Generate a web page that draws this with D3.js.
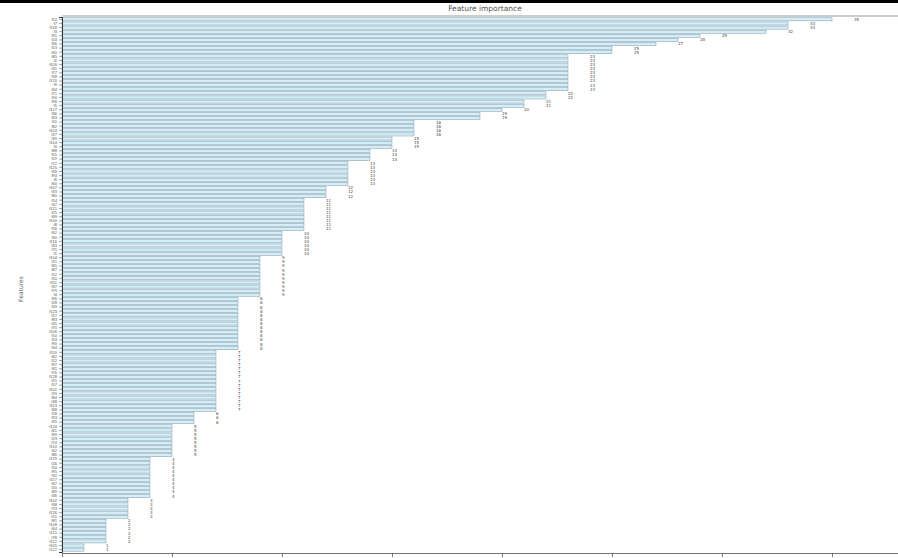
<!DOCTYPE html>
<html>
<head>
<meta charset="utf-8">
<script src="https://cdn.jsdelivr.net/npm/d3@7"></script>
<style>
  body { margin: 0; background: #fff; }
  svg { display: block; font-family: "DejaVu Sans", sans-serif; }
</style>
</head>
<body>
<div id="chart"></div>
<script>
// features, top of chart first (largest F score)
const features = [
  "f52", "f7", "f118", "f3", "f91", "f24", "f66", "f13", "f40",
  "f85", "f2", "f109", "f31", "f77", "f58", "f120", "f9", "f44",
  "f71", "f16", "f98", "f5", "f127", "f36", "f63", "f11", "f82",
  "f103", "f27", "f49", "f114", "f0", "f88", "f55", "f19", "f72",
  "f125", "f39", "f94", "f6", "f60", "f107", "f33", "f80", "f14",
  "f47", "f121", "f25", "f69", "f100", "f8", "f56", "f92", "f30",
  "f116", "f43", "f75", "f1", "f104", "f21", "f65", "f87", "f12",
  "f50", "f111", "f37", "f79", "f4", "f96", "f28", "f59", "f123",
  "f17", "f83", "f45", "f70", "f106", "f10", "f53", "f90", "f34",
  "f119", "f62", "f22", "f97", "f41", "f76", "f128", "f15", "f57",
  "f101", "f29", "f84", "f48", "f113", "f68", "f18", "f93", "f35",
  "f124", "f61", "f99", "f23", "f74", "f110", "f42", "f86", "f129",
  "f26", "f54", "f95", "f32", "f117", "f67", "f20", "f89", "f46",
  "f102", "f38", "f73", "f126", "f51", "f81", "f108", "f64", "f115",
  "f78", "f112", "f105", "f122"
];

// F score of each feature, same order
const scores = [
  35, 33, 33, 32, 29, 28, 27, 25, 25,
  23, 23, 23, 23, 23, 23, 23, 23, 23,
  22, 22, 21, 21, 20, 19, 19, 16, 16,
  16, 16, 15, 15, 15, 14, 14, 14, 13,
  13, 13, 13, 13, 13, 12, 12, 12, 11,
  11, 11, 11, 11, 11, 11, 11, 10, 10,
  10, 10, 10, 10, 9, 9, 9, 9, 9,
  9, 9, 9, 9, 9, 8, 8, 8, 8,
  8, 8, 8, 8, 8, 8, 8, 8, 8,
  7, 7, 7, 7, 7, 7, 7, 7, 7,
  7, 7, 7, 7, 7, 7, 6, 6, 6,
  5, 5, 5, 5, 5, 5, 5, 5, 4,
  4, 4, 4, 4, 4, 4, 4, 4, 4,
  3, 3, 3, 3, 3, 2, 2, 2, 2,
  2, 2, 1, 1
];

const xTicks = [0, 5, 10, 15, 20, 25, 30, 35];

const width = 898;
const height = 558;
const margin = { top: 16, right: 0, bottom: 5, left: 62 };

const data = features.map((f, i) => ({ feature: f, value: scores[i] }));

const svg = d3
  .select("#chart")
  .append("svg")
  .attr("width", width)
  .attr("height", height);

// black strip along the top edge
svg
  .append("rect")
  .attr("x", 0)
  .attr("y", 0)
  .attr("width", width)
  .attr("height", 3)
  .attr("fill", "#000");

const x = d3
  .scaleLinear()
  .domain([0, 38])
  .range([margin.left, width - margin.right]);

const y = d3
  .scaleBand()
  .domain(features)
  .range([margin.top + 1, height - margin.bottom - 1])
  .paddingInner(0.25)
  .paddingOuter(0.2);

// bars
svg
  .selectAll(".bar")
  .data(data)
  .enter()
  .append("rect")
  .attr("class", "bar")
  .attr("x", x(0))
  .attr("y", (d) => y(d.feature))
  .attr("width", (d) => x(d.value) - x(0))
  .attr("height", y.bandwidth())
  .attr("fill", "#d3eef9")
  .attr("stroke", "#62808f")
  .attr("stroke-width", 0.4);

// value labels, one unit to the right of each bar
svg
  .selectAll(".val")
  .data(data)
  .enter()
  .append("text")
  .attr("class", "val")
  .attr("x", (d) => x(d.value + 1))
  .attr("y", (d) => y(d.feature) + y.bandwidth() / 2)
  .attr("dy", "0.35em")
  .style("font-size", "4px")
  .style("fill", "#444")
  .text((d) => d.value);

// y axis
svg
  .append("g")
  .attr("transform", `translate(${margin.left},0)`)
  .call(d3.axisLeft(y).tickSize(3).tickPadding(2))
  .call((g) => g.select(".domain").attr("stroke", "#333"))
  .call((g) => g.selectAll(".tick line").attr("stroke", "#555").attr("stroke-width", 0.5))
  .selectAll("text")
  .style("font-size", "4px")
  .style("fill", "#555");

// x axis, tick labels fall below the visible area
svg
  .append("g")
  .attr("transform", `translate(0,${height - margin.bottom})`)
  .call(d3.axisBottom(x).tickValues(xTicks).tickSize(4).tickFormat(() => ""))
  .call((g) => g.select(".domain").attr("stroke", "#777"))
  .call((g) => g.selectAll(".tick line").attr("stroke", "#777"));

// top frame line
svg
  .append("line")
  .attr("x1", margin.left)
  .attr("x2", width)
  .attr("y1", margin.top)
  .attr("y2", margin.top)
  .attr("stroke", "#999")
  .attr("stroke-width", 1);

// title
svg
  .append("text")
  .attr("x", (margin.left + width) / 2 + 5)
  .attr("y", 11)
  .attr("text-anchor", "middle")
  .style("font-size", "7.5px")
  .style("fill", "#555")
  .text("Feature importance");

// y axis label
svg
  .append("text")
  .attr("transform", `translate(23,${height / 2 + 10}) rotate(-90)`)
  .attr("text-anchor", "middle")
  .style("font-size", "6px")
  .style("fill", "#666")
  .text("Features");
</script>
</body>
</html>
